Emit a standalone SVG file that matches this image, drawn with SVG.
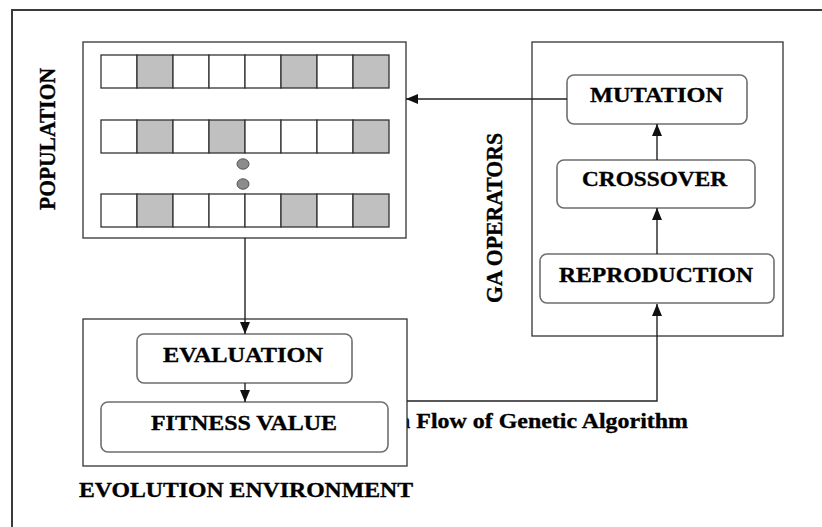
<svg xmlns="http://www.w3.org/2000/svg" width="822" height="527" viewBox="0 0 822 527">
  <style>
    .frame { fill: none; stroke: #3a3a3a; stroke-width: 2; }
    .box { fill: #ffffff; stroke: #333333; stroke-width: 1.3; }
    .step { fill: #ffffff; stroke: #6e6e6e; stroke-width: 1.6; }
    .cell { fill: #ffffff; stroke: #333333; stroke-width: 1.3; }
    .cell.on { fill: #c0c0c0; }
    .dot { fill: #8c8c8c; stroke: #555555; stroke-width: 1; }
    .lbl { font-family: "Liberation Serif", "Times New Roman", serif; font-weight: bold; font-size: 21.5px; fill: #000000; stroke: #000000; stroke-width: 0.35; }
    .side { font-size: 23px; }
    .wire { fill: none; stroke: #222222; stroke-width: 1.4; }
  </style>
  <defs>
    <marker id="arrow" markerUnits="userSpaceOnUse" markerWidth="12" markerHeight="10" refX="12" refY="5" orient="auto">
      <path d="M0,0 L12,5 L0,10 z" fill="#111111"/>
    </marker>
  </defs>

  <rect width="822" height="527" fill="#ffffff"/>

  <!-- open page frame: top and left edges only -->
  <path class="frame" d="M12,527 L12,10 L822,10"/>

  <!-- caption, partly covered by the evolution environment box -->
  <text class="lbl" x="397" y="428" textLength="291" lengthAdjust="spacingAndGlyphs">n Flow of Genetic Algorithm</text>

  <g id="population">
    <rect class="box" x="83" y="42" width="323" height="196"/>
    <g id="chromosome-1">
      <rect class="cell" x="101" y="55" width="36" height="33"/>
      <rect class="cell on" x="137" y="55" width="36" height="33"/>
      <rect class="cell" x="173" y="55" width="36" height="33"/>
      <rect class="cell" x="209" y="55" width="36" height="33"/>
      <rect class="cell" x="245" y="55" width="36" height="33"/>
      <rect class="cell on" x="281" y="55" width="36" height="33"/>
      <rect class="cell" x="317" y="55" width="36" height="33"/>
      <rect class="cell on" x="353" y="55" width="36" height="33"/>
    </g>
    <g id="chromosome-2">
      <rect class="cell" x="101" y="120" width="36" height="33"/>
      <rect class="cell on" x="137" y="120" width="36" height="33"/>
      <rect class="cell" x="173" y="120" width="36" height="33"/>
      <rect class="cell on" x="209" y="120" width="36" height="33"/>
      <rect class="cell" x="245" y="120" width="36" height="33"/>
      <rect class="cell" x="281" y="120" width="36" height="33"/>
      <rect class="cell" x="317" y="120" width="36" height="33"/>
      <rect class="cell on" x="353" y="120" width="36" height="33"/>
    </g>
    <ellipse class="dot" cx="243" cy="164" rx="6" ry="5.2"/>
    <ellipse class="dot" cx="243" cy="184" rx="6" ry="5.2"/>
    <g id="chromosome-n">
      <rect class="cell" x="101" y="194" width="36" height="33"/>
      <rect class="cell on" x="137" y="194" width="36" height="33"/>
      <rect class="cell" x="173" y="194" width="36" height="33"/>
      <rect class="cell" x="209" y="194" width="36" height="33"/>
      <rect class="cell" x="245" y="194" width="36" height="33"/>
      <rect class="cell on" x="281" y="194" width="36" height="33"/>
      <rect class="cell" x="317" y="194" width="36" height="33"/>
      <rect class="cell on" x="353" y="194" width="36" height="33"/>
    </g>
    <text class="lbl side" transform="translate(55,210) rotate(-90)" textLength="142" lengthAdjust="spacingAndGlyphs">POPULATION</text>
  </g>

  <g id="ga-operators">
    <rect class="box" x="532" y="42" width="251" height="294"/>
    <text class="lbl side" transform="translate(502,303) rotate(-90)" textLength="170" lengthAdjust="spacingAndGlyphs">GA OPERATORS</text>
  </g>

  <g id="mutation">
    <rect class="step" x="567" y="75" width="180" height="49" rx="7"/>
    <text class="lbl" x="590" y="102" textLength="133" lengthAdjust="spacingAndGlyphs">MUTATION</text>
  </g>

  <g id="crossover">
    <rect class="step" x="557" y="160" width="198" height="48" rx="7"/>
    <text class="lbl" x="582" y="186" textLength="145" lengthAdjust="spacingAndGlyphs">CROSSOVER</text>
  </g>

  <g id="reproduction">
    <rect class="step" x="540" y="254" width="234" height="49" rx="7"/>
    <text class="lbl" x="559" y="282" textLength="194" lengthAdjust="spacingAndGlyphs">REPRODUCTION</text>
  </g>

  <g id="evolution-environment">
    <rect class="box" x="83" y="319" width="324" height="147"/>
    <text class="lbl" x="79" y="497" textLength="334" lengthAdjust="spacingAndGlyphs">EVOLUTION ENVIRONMENT</text>
  </g>

  <g id="evaluation">
    <rect class="step" x="137" y="334" width="215" height="49" rx="7"/>
    <text class="lbl" x="163" y="362" textLength="160" lengthAdjust="spacingAndGlyphs">EVALUATION</text>
  </g>

  <g id="fitness-value">
    <rect class="step" x="101" y="402" width="287" height="50" rx="7"/>
    <text class="lbl" x="151" y="430" textLength="186" lengthAdjust="spacingAndGlyphs">FITNESS VALUE</text>
  </g>

  <g id="connectors">
    <path class="wire" d="M567,99 L406,99" marker-end="url(#arrow)"/>
    <path class="wire" d="M657,160 L657,124" marker-end="url(#arrow)"/>
    <path class="wire" d="M657,254 L657,208" marker-end="url(#arrow)"/>
    <path class="wire" d="M407,401 L657,401 L657,304" marker-end="url(#arrow)"/>
    <path class="wire" d="M245,238 L245,334" marker-end="url(#arrow)"/>
    <path class="wire" d="M245,383 L245,402" marker-end="url(#arrow)"/>
  </g>
</svg>
